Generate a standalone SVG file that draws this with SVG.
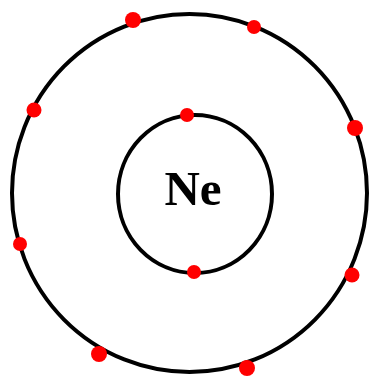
<svg xmlns="http://www.w3.org/2000/svg" width="372" height="376" viewBox="0 0 372 376">
<style>
.shell{fill:none;stroke:#000;stroke-width:4}
.e{fill:#ff0000}
.lbl{font-family:"Liberation Serif",serif;font-weight:bold;font-size:49px;fill:#000}
</style>
<rect width="372" height="376" fill="#fff"/>
<g id="outer-shell">
<ellipse class="shell" cx="189.5" cy="193" rx="177.5" ry="179"/>
</g>
<g id="inner-shell">
<ellipse class="shell" cx="195" cy="194" rx="77" ry="79"/>
</g>
<g id="nucleus">
<text class="lbl" x="193" y="205" text-anchor="middle">Ne</text>
</g>
<g id="electrons">
<circle class="e" cx="187" cy="115" r="7"/>
<circle class="e" cx="194" cy="272" r="7"/>
<circle class="e" cx="133" cy="20" r="8"/>
<circle class="e" cx="254" cy="27" r="7"/>
<circle class="e" cx="34" cy="110" r="7.5"/>
<circle class="e" cx="355" cy="128" r="8"/>
<circle class="e" cx="20" cy="244" r="7"/>
<circle class="e" cx="352" cy="275" r="7.5"/>
<circle class="e" cx="99" cy="354" r="8"/>
<circle class="e" cx="247" cy="368" r="8"/>
</g>
</svg>
